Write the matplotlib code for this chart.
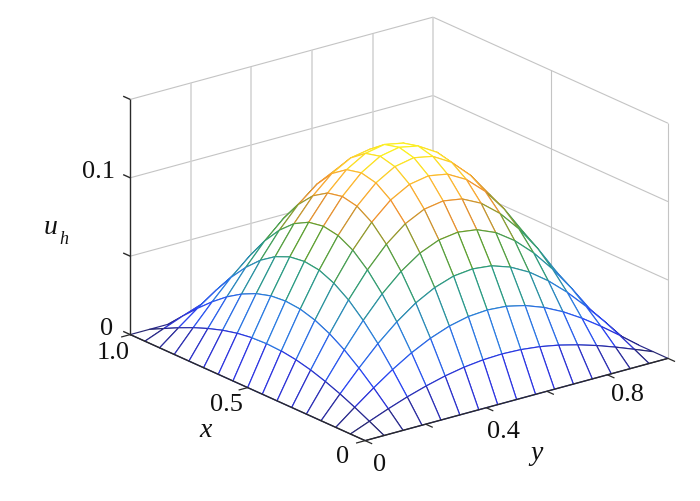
import numpy as np
import matplotlib
matplotlib.use('Agg')
import matplotlib.pyplot as plt
from matplotlib.colors import LinearSegmentedColormap
from mpl_toolkits.mplot3d.art3d import Poly3DCollection

plt.rcParams['font.family'] = ['Liberation Serif', 'DejaVu Serif']

x_vals = [0, .0625, .125, .1875, .25, .3125, .375, .4375, .5, .5625, .625, .6875, .75, .8125, .875, .9375, 1]
y_vals = [0, .0625, .125, .1875, .25, .3125, .375, .4375, .5, .5625, .625, .6875, .75, .8125, .875, .9375, 1]

u_vals = [
    [0, 0, 0, 0, 0, 0, 0, 0, 0, 0, 0, 0, 0, 0, 0, 0, 0],
    [0, .0048, .0095, .0138, .0175, .0206, .0229, .0243, .0248, .0243, .0229, .0206, .0175, .0138, .0095, .0048, 0],
    [0, .0095, .0186, .0270, .0344, .0404, .0449, .0477, .0486, .0477, .0449, .0404, .0344, .0270, .0186, .0095, 0],
    [0, .0138, .0270, .0393, .0499, .0587, .0652, .0693, .0706, .0693, .0652, .0587, .0499, .0393, .0270, .0138, 0],
    [0, .0175, .0344, .0499, .0635, .0746, .0830, .0881, .0898, .0881, .0830, .0746, .0635, .0499, .0344, .0175, 0],
    [0, .0206, .0404, .0587, .0746, .0877, .0975, .1035, .1055, .1035, .0975, .0877, .0746, .0587, .0404, .0206, 0],
    [0, .0229, .0449, .0652, .0830, .0975, .1084, .1151, .1173, .1151, .1084, .0975, .0830, .0652, .0449, .0229, 0],
    [0, .0243, .0477, .0693, .0881, .1035, .1151, .1222, .1246, .1222, .1151, .1035, .0881, .0693, .0477, .0243, 0],
    [0, .0248, .0486, .0706, .0898, .1055, .1173, .1246, .1270, .1246, .1173, .1055, .0898, .0706, .0486, .0248, 0],
    [0, .0243, .0477, .0693, .0881, .1035, .1151, .1222, .1246, .1222, .1151, .1035, .0881, .0693, .0477, .0243, 0],
    [0, .0229, .0449, .0652, .0830, .0975, .1084, .1151, .1173, .1151, .1084, .0975, .0830, .0652, .0449, .0229, 0],
    [0, .0206, .0404, .0587, .0746, .0877, .0975, .1035, .1055, .1035, .0975, .0877, .0746, .0587, .0404, .0206, 0],
    [0, .0175, .0344, .0499, .0635, .0746, .0830, .0881, .0898, .0881, .0830, .0746, .0635, .0499, .0344, .0175, 0],
    [0, .0138, .0270, .0393, .0499, .0587, .0652, .0693, .0706, .0693, .0652, .0587, .0499, .0393, .0270, .0138, 0],
    [0, .0095, .0186, .0270, .0344, .0404, .0449, .0477, .0486, .0477, .0449, .0404, .0344, .0270, .0186, .0095, 0],
    [0, .0048, .0095, .0138, .0175, .0206, .0229, .0243, .0248, .0243, .0229, .0206, .0175, .0138, .0095, .0048, 0],
    [0, 0, 0, 0, 0, 0, 0, 0, 0, 0, 0, 0, 0, 0, 0, 0, 0],
]

x_ticks = [0, .5, 1]
y_ticks = [0, .2, .4, .6, .8, 1]
z_ticks = [0, .05, .1, .15]
x_grid = [.5, 0]
y_grid = [.2, .4, .6, .8, 1]
z_grid = [.05, .1, .15]

tick_labels = [('0.1', 98, 172), ('0', 107, 329), ('1.0', 113, 353), ('0.5', 226, 405),
               ('0', 343, 457), ('0', 380, 465), ('0.4', 503, 432), ('0.8', 628, 395)]

W, H = 700, 502
SIDE = 600.0
cmap = LinearSegmentedColormap.from_list('mesh', [
    (0, '#28286a'), (.04, '#2a2a98'), (.09, '#2c34e0'), (.14, '#2a45f5'), (.29, '#2a7ce0'),
    (.47, '#2a9c80'), (.63, '#5fa030'), (.77, '#f09030'), (.88, '#fdbb30'), (.97, '#fbf020'), (1, '#fbf020')])

fig = plt.figure(figsize=(7, 5.02), dpi=100)
ax = fig.add_axes([91 / W, -36 / H, SIDE / W, SIDE / H], projection='3d', computed_zorder=False)
ax.set_proj_type('ortho')
ax.view_init(elev=20.5, azim=-37.8)
ax.set_box_aspect((1, 1, .655), zoom=.9665)
ax.set_axis_off()

grid_col = '#c4c4c4'


def line3(xs, ys, zs, col=grid_col, lw=.8, z=1):
    ax.plot(xs, ys, zs, color=col, lw=lw, zorder=z, clip_on=False, solid_capstyle='butt')


# back walls
for zv in z_grid:
    line3([1, 1], [0, 1], [zv, zv])
    line3([1, 0], [1, 1], [zv, zv])
for yv in y_grid:
    line3([1, 1], [yv, yv], [0, .15], col='#d2d2d2', lw=1.1)
for xv in x_grid:
    line3([xv, xv], [1, 1], [0, .15])

# mesh, one white quad per cell so hidden lines go away
u = np.array(u_vals)
verts = []
cols = []
for i in range(len(x_vals) - 1):
    for j in range(len(y_vals) - 1):
        verts.append([(x_vals[i], y_vals[j], u[i, j]), (x_vals[i + 1], y_vals[j], u[i + 1, j]),
                      (x_vals[i + 1], y_vals[j + 1], u[i + 1, j + 1]), (x_vals[i], y_vals[j + 1], u[i, j + 1])])
        cols.append(cmap(u[i:i + 2, j:j + 2].mean() / u.max()))
surf = Poly3DCollection(verts, facecolors='white', edgecolors=cols, linewidths=.85, zorder=2)
surf.set_clip_on(False)
ax.add_collection3d(surf)

# axes and ticks
axis_col = '#2a2a2a'
line3([1, 1], [0, 0], [0, .15], col=axis_col, lw=1, z=3)
line3([0, 1], [0, 0], [0, 0], col=axis_col, lw=1, z=3)
line3([0, 0], [0, 1], [0, 0], col=axis_col, lw=1, z=3)
for zv in z_ticks:
    line3([1, 1.03], [0, 0], [zv, zv], col=axis_col, lw=1, z=3)
for xv in x_ticks:
    line3([xv, xv], [0, -.03], [0, 0], col=axis_col, lw=.9, z=3)
for yv in y_ticks:
    line3([0, -.03], [yv, yv], [0, 0], col=axis_col, lw=.9, z=3)

ax.set_xlim(1, 0)
ax.set_ylim(0, 1)
ax.set_zlim(0, .15)


def put(s, px, py, size=19, style='normal'):
    fig.text(px / W, 1 - py / H, s, fontsize=size, style=style, ha='center', va='center', color='#111111')


for s, px, py in tick_labels:
    put(s, px, py)
put('x', 206, 431, size=20, style='italic')
put('y', 536, 454, size=20, style='italic')
put('u', 51, 228, size=20, style='italic')
put('h', 64, 239, size=13, style='italic')

fig.savefig('out.png', dpi=100)
